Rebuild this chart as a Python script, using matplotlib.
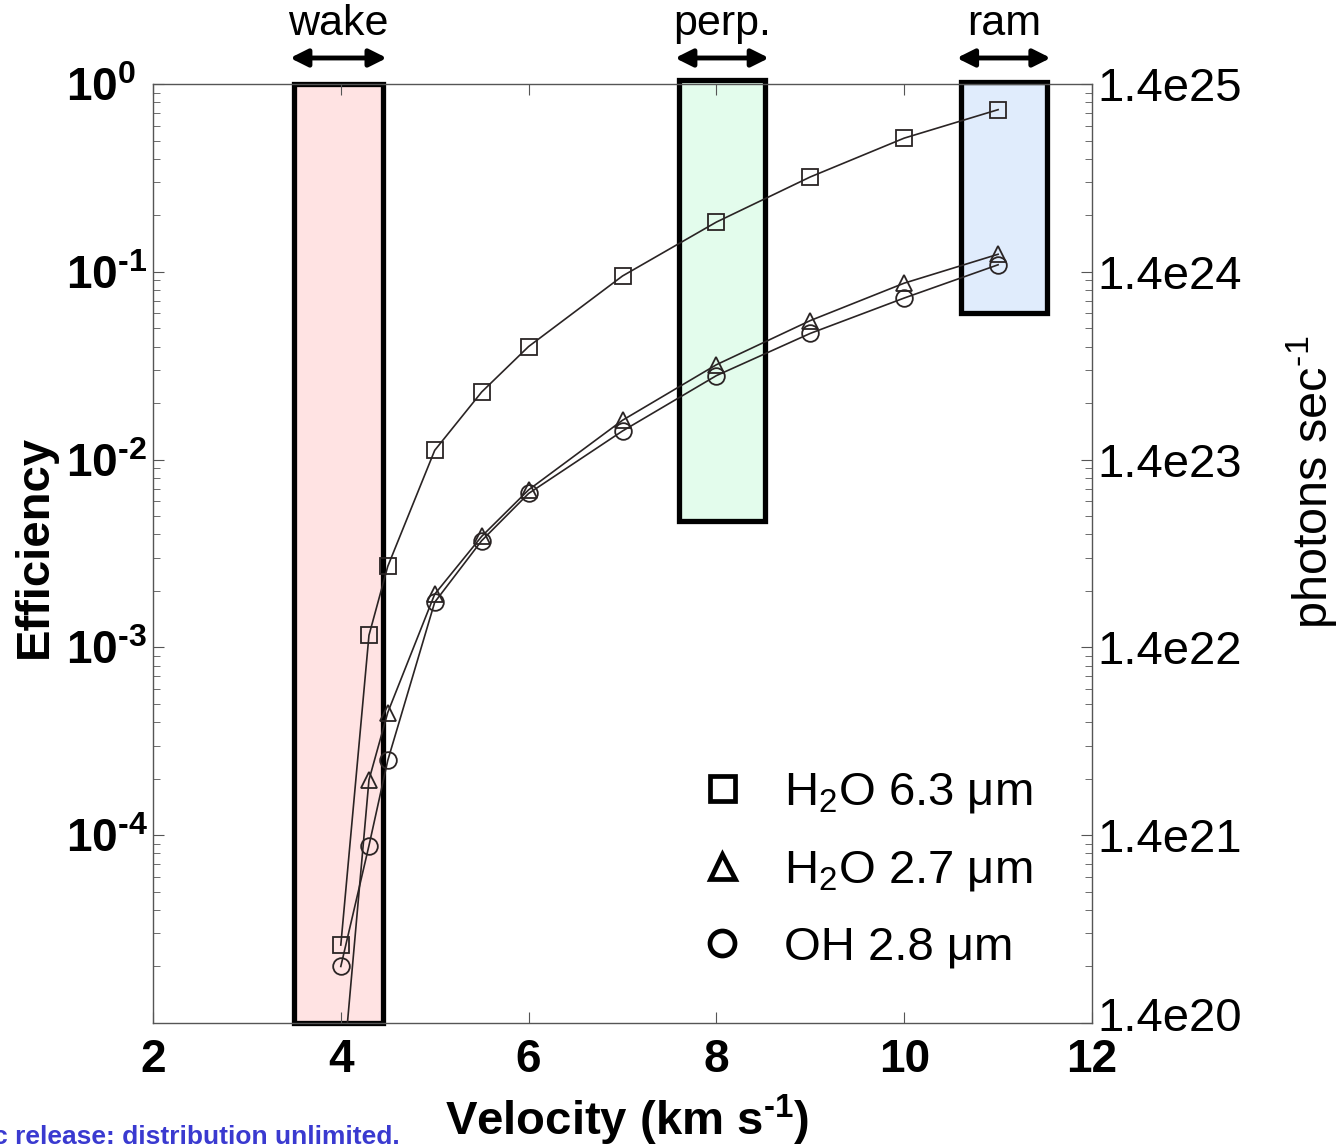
import numpy as np
import matplotlib
matplotlib.use('Agg')
import matplotlib.pyplot as plt
from matplotlib.patches import Rectangle
from matplotlib.lines import Line2D
from matplotlib.ticker import FixedLocator, NullFormatter
import matplotlib.transforms as mtransforms

plt.rcParams['font.family'] = ['Liberation Sans', 'DejaVu Sans']
plt.rcParams['mathtext.fontset'] = 'custom'
plt.rcParams['mathtext.rm'] = 'Liberation Sans'
plt.rcParams['mathtext.it'] = 'Liberation Sans:italic'
plt.rcParams['mathtext.bf'] = 'Liberation Sans:bold'

HY = '\u2010'  # short hyphen for exponents

# velocity (km/s)
velocity = [4.0, 4.3, 4.5, 5.0, 5.5, 6.0, 7.0, 8.0, 9.0, 10.0, 11.0]
# efficiencies
h2o_63 = [2.6e-5, 1.16e-3, 2.7e-3, 1.12e-2, 2.29e-2, 4.0e-2, 9.5e-2, 0.184, 0.32, 0.515, 0.73]
h2o_27 = [4.0e-6, 1.97e-4, 4.5e-4, 1.92e-3, 3.9e-3, 6.9e-3, 1.62e-2, 3.2e-2, 5.5e-2, 8.7e-2, 0.124]
oh_28 = [2.0e-5, 8.8e-5, 2.5e-4, 1.74e-3, 3.7e-3, 6.6e-3, 1.42e-2, 2.8e-2, 4.7e-2, 7.25e-2, 0.109]

labels = ['H$_2$O 6.3 \u03bcm', 'H$_2$O 2.7 \u03bcm', 'OH 2.8 \u03bcm']
markers = ['s', '^', 'o']

# orientation regions: (name, x0, x1, y0, y1, colour)
regions = [('wake', 3.5, 4.45, 1e-5, 1.0, '#ffe3e3'),
           ('perp.', 7.6, 8.52, 4.7e-3, 1.05, '#e3fcec'),
           ('ram', 10.6, 11.52, 0.06, 1.02, '#e0ecfc')]

left_ticks = [1e0, 1e-1, 1e-2, 1e-3, 1e-4]
right_ticks = [1.4e20, 1.4e21, 1.4e22, 1.4e23, 1.4e24, 1.4e25]

fig = plt.figure(figsize=(13.37, 11.47), dpi=100)
ax = fig.add_axes([153/1337, 1 - 1023/1147, 939/1337, 939/1147])
trans = mtransforms.blended_transform_factory(ax.transData, ax.transAxes)

for name, x0, x1, y0, y1, col in regions:
    ax.add_patch(Rectangle((x0, y0), x1 - x0, y1 - y0, facecolor=col,
                           edgecolor='black', linewidth=3.8, zorder=1, clip_on=False))
    ax.annotate('', xy=(x0 - 0.04, 1.0277), xytext=(x1 + 0.04, 1.0277), xycoords=trans,
                textcoords=trans,
                arrowprops=dict(arrowstyle='<|-|>', color='black', lw=3.5,
                                mutation_scale=26, shrinkA=0, shrinkB=0),
                annotation_clip=False)
    ax.text((x0 + x1) / 2, 1.064, name, transform=trans, ha='center', va='center',
            fontsize=31)

for ys, m in zip([h2o_63, h2o_27, oh_28], markers):
    ax.plot(velocity, ys, color='#2a2424', lw=1.2, marker=m, markersize=12,
            markerfacecolor='none', markeredgecolor='#2a2424', markeredgewidth=1.3, zorder=3)

ax.set_yscale('log')
ax.set_xlim(2, 12)
ax.set_ylim(1e-5, 1e0)
ax.set_xticks([2, 4, 6, 8, 10, 12])
ax.set_xticklabels(['2', '4', '6', '8', '10', '12'], fontsize=33, fontweight='bold')
ax.yaxis.set_major_locator(FixedLocator(left_ticks))


def exp_label(t):
    e = int(np.log10(t))
    s = str(e).replace('-', HY)
    return r'$\mathbf{10^{%s}}$' % s


ax.set_yticklabels([exp_label(t) for t in left_ticks], fontsize=33, ha='left')
ax.yaxis.set_minor_formatter(NullFormatter())
ax.tick_params(axis='x', which='both', direction='in', top=True, length=8, color='#555555', pad=11)
ax.tick_params(axis='y', which='major', direction='in', length=8, color='#555555', pad=63)
ax.tick_params(axis='y', which='minor', direction='in', length=5, color='#555555')
for s in ax.spines.values():
    s.set_color('#555555')
    s.set_linewidth(1.0)

ax.set_xlabel('Velocity (km s$^{\\mathbf{%s1}}$)' % HY, fontsize=34, fontweight='bold', va='center')
ax.xaxis.set_label_coords(0.505, -0.1033)
ax.set_ylabel('Efficiency', fontsize=34, fontweight='bold', va='center')
ax.yaxis.set_label_coords(-0.1257, 0.507)

ax2 = ax.twinx()
ax2.set_yscale('log')
ax2.set_ylim(1.4e20, 1.4e25)
ax2.yaxis.set_major_locator(FixedLocator(right_ticks))
ax2.set_yticklabels(['1.4e%d' % int(round(np.log10(t / 1.4))) for t in right_ticks], fontsize=34)
minor = [1.4 * k * 10.0**e for e in range(20, 25) for k in range(2, 10)]
ax2.yaxis.set_minor_locator(FixedLocator(minor))
ax2.yaxis.set_minor_formatter(NullFormatter())
ax2.tick_params(axis='y', which='major', direction='in', length=8, color='#555555', pad=4)
ax2.tick_params(axis='y', which='minor', direction='in', length=5, color='#555555')
for s in ax2.spines.values():
    s.set_visible(False)
# lift the lowest right label a little, as in the original
low = ax2.get_yticklabels()[0]
low.set_transform(low.get_transform() + mtransforms.ScaledTranslation(0, 9/100, fig.dpi_scale_trans))
fig.text(1312/1337, 1 - 482/1147, 'photons sec$^{%s1}$' % HY, rotation=90, ha='center',
         va='center', fontsize=35)

handles = [Line2D([], [], linestyle='none', marker=m, markersize=18, markerfacecolor='none',
                  markeredgecolor='black', markeredgewidth=3.4) for m in markers]
leg = ax.legend(handles, labels, loc='upper left', bbox_to_anchor=(0.556, 0.294),
                frameon=False, fontsize=34, handlelength=1.0, handletextpad=0.8,
                labelspacing=0.7, borderpad=0.0)

fig.text(400/1337, 1 - 1144/1147, 'Approved for public release: distribution unlimited.',
         ha='right', va='baseline', fontsize=19, fontweight='bold', color='#3a3ad0')

fig.savefig('out.png', dpi=100)
